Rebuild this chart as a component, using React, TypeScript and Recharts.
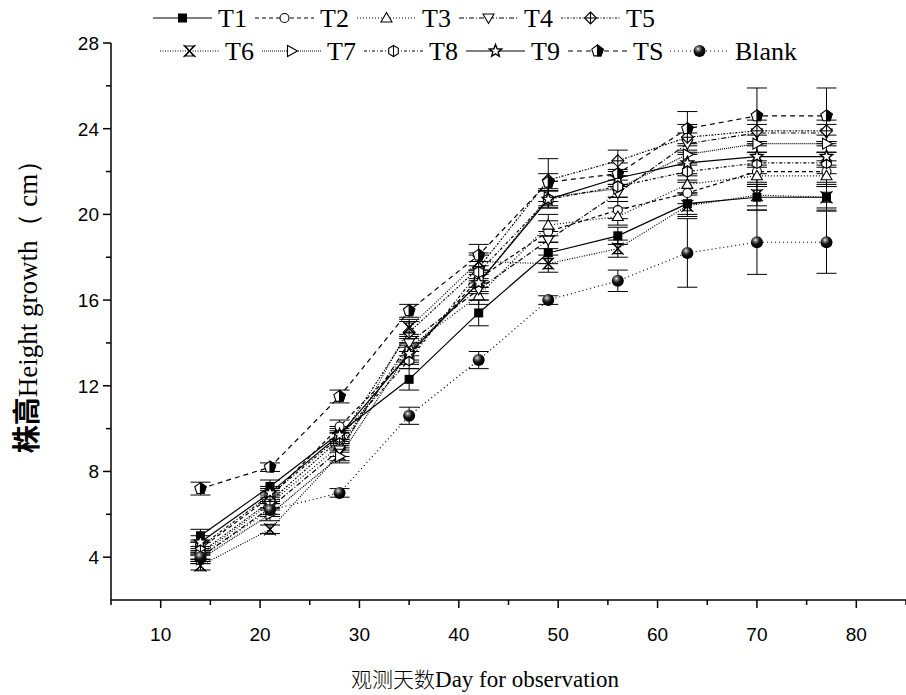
import React from 'react';
import { LineChart, Line, XAxis, YAxis, ErrorBar, Legend } from 'recharts';

// observation days
const days = [14, 21, 28, 35, 42, 49, 56, 63, 70, 77];

// mean heights (cm)
const t1 = [5.0, 7.3, 9.8, 12.3, 15.4, 18.2, 19.0, 20.5, 20.8, 20.8];
const t2 = [4.4, 6.8, 10.1, 13.4, 17.0, 19.2, 20.2, 21.0, 22.0, 22.0];
const t3 = [4.1, 6.5, 9.2, 13.8, 16.2, 19.5, 19.9, 21.4, 21.8, 21.8];
const t4 = [4.0, 6.3, 9.0, 14.0, 16.5, 18.8, 21.0, 23.3, 23.8, 23.8];
const t5 = [4.2, 6.6, 9.5, 14.5, 17.5, 21.6, 22.5, 23.6, 23.9, 23.9];
const t6 = [3.6, 5.3, 8.8, 14.7, 17.8, 17.7, 18.4, 20.4, 20.9, 20.8];
const t7 = [3.9, 6.0, 8.7, 13.6, 16.8, 20.8, 21.2, 22.8, 23.3, 23.3];
const t8 = [4.5, 6.9, 9.6, 13.2, 17.3, 20.7, 21.3, 22.0, 22.4, 22.4];
const t9 = [4.7, 7.0, 9.7, 13.5, 16.8, 20.7, 21.7, 22.4, 22.7, 22.7];
const ts = [7.2, 8.2, 11.5, 15.5, 18.1, 21.5, 21.9, 24.0, 24.6, 24.6];
const blank = [4.0, 6.2, 7.0, 10.6, 13.2, 16.0, 16.9, 18.2, 18.7, 18.7];

// standard errors
const e1 = [0.3, 0.3, 0.3, 0.5, 0.6, 0.5, 0.4, 0.5, 0.6, 0.6];
const e2 = [0.3, 0.3, 0.3, 0.4, 0.4, 0.5, 0.4, 0.5, 0.5, 0.5];
const e3 = [0.2, 0.3, 0.3, 0.4, 0.4, 0.5, 0.4, 0.4, 0.5, 0.5];
const e4 = [0.2, 0.3, 0.3, 0.4, 0.5, 0.4, 0.4, 0.5, 0.4, 0.4];
const e5 = [0.3, 0.3, 0.3, 0.5, 0.6, 1.0, 0.5, 0.6, 0.5, 0.5];
const e6 = [0.2, 0.2, 0.3, 0.4, 0.4, 0.4, 0.4, 0.5, 0.5, 0.5];
const e7 = [0.2, 0.3, 0.3, 0.4, 0.4, 0.4, 0.4, 0.5, 0.4, 0.4];
const e8 = [0.3, 0.3, 0.3, 0.4, 0.5, 0.4, 0.5, 0.4, 0.5, 0.5];
const e9 = [0.3, 0.3, 0.3, 0.4, 0.5, 0.4, 0.4, 0.5, 0.5, 0.5];
const eS = [0.3, 0.2, 0.3, 0.3, 0.5, 0.4, 0.5, 0.8, 1.3, 1.3];
const eB = [0.3, 0.3, 0.2, 0.4, 0.4, 0.2, 0.5, 1.6, 1.5, 1.45];

const xTicks = [5, 10, 15, 20, 25, 30, 35, 40, 45, 50, 55, 60, 65, 70, 75, 80, 85];
const yTicks = [4, 6, 8, 10, 12, 14, 16, 18, 20, 22, 24, 26, 28];

const series = [
  { key: 'T1', values: t1, errors: e1, shape: 'square', dash: undefined },
  { key: 'T2', values: t2, errors: e2, shape: 'circle', dash: '4 3' },
  { key: 'T3', values: t3, errors: e3, shape: 'triUp', dash: '1 2' },
  { key: 'T4', values: t4, errors: e4, shape: 'triDown', dash: '5 2 1 2' },
  { key: 'T5', values: t5, errors: e5, shape: 'diamond', dash: '2 1.5 1 1.5' },
  { key: 'T6', values: t6, errors: e6, shape: 'xbox', dash: '1 1.5' },
  { key: 'T7', values: t7, errors: e7, shape: 'triRight', dash: '1 1' },
  { key: 'T8', values: t8, errors: e8, shape: 'hex', dash: '3 2 1 2' },
  { key: 'T9', values: t9, errors: e9, shape: 'star', dash: undefined },
  { key: 'TS', values: ts, errors: eS, shape: 'pent', dash: '5 4' },
  { key: 'Blank', values: blank, errors: eB, shape: 'ball', dash: '1 3' },
];

const data = days.map((d, i) => {
  const row: Record<string, number> = { day: d };
  series.forEach((s) => {
    row[s.key] = s.values[i];
    row[s.key + '_e'] = s.errors[i];
  });
  return row;
});

const W = 906;
const H = 695;
const PLOT_LEFT = 111;
const PLOT_TOP = 43;
const PLOT_BOTTOM = 600;

function star(cx: number, cy: number, r: number, ri: number) {
  const pts: string[] = [];
  for (let k = 0; k < 10; k++) {
    const a = -Math.PI / 2 + (k * Math.PI) / 5;
    const rr = k % 2 === 0 ? r : ri;
    pts.push(`${cx + rr * Math.cos(a)},${cy + rr * Math.sin(a)}`);
  }
  return pts.join(' ');
}

function Marker({ shape, cx, cy, grad }: { shape: string; cx: number; cy: number; grad: string }) {
  const sw = 1.1;
  switch (shape) {
    case 'square':
      return <rect x={cx - 4.5} y={cy - 4.5} width={9} height={9} fill="#000" />;
    case 'circle':
      return <circle cx={cx} cy={cy} r={4.5} fill="#fff" stroke="#000" strokeWidth={sw} />;
    case 'triUp':
      return <polygon points={`${cx},${cy - 5.5} ${cx + 5.5},${cy + 4} ${cx - 5.5},${cy + 4}`} fill="#fff" stroke="#000" strokeWidth={sw} />;
    case 'triDown':
      return <polygon points={`${cx},${cy + 5.5} ${cx + 5.5},${cy - 4} ${cx - 5.5},${cy - 4}`} fill="#fff" stroke="#000" strokeWidth={sw} />;
    case 'diamond':
      return (
        <g stroke="#000" strokeWidth={sw}>
          <polygon points={`${cx},${cy - 6} ${cx + 6},${cy} ${cx},${cy + 6} ${cx - 6},${cy}`} fill="#fff" />
          <line x1={cx - 6} y1={cy} x2={cx + 6} y2={cy} />
          <line x1={cx} y1={cy - 6} x2={cx} y2={cy + 6} />
        </g>
      );
    case 'xbox':
      return (
        <g stroke="#000" strokeWidth={sw} fill="none">
          <polygon points={`${cx - 4},${cy - 5} ${cx + 4},${cy - 5} ${cx - 4},${cy + 5} ${cx + 4},${cy + 5}`} />
          <line x1={cx - 6} y1={cy - 6} x2={cx + 6} y2={cy + 6} />
          <line x1={cx + 6} y1={cy - 6} x2={cx - 6} y2={cy + 6} />
        </g>
      );
    case 'triRight':
      return <polygon points={`${cx + 6},${cy} ${cx - 4},${cy - 5.5} ${cx - 4},${cy + 5.5}`} fill="#fff" stroke="#000" strokeWidth={sw} />;
    case 'hex':
      return (
        <g stroke="#000" strokeWidth={sw}>
          <polygon points={`${cx},${cy - 5.5} ${cx + 4.8},${cy - 2.75} ${cx + 4.8},${cy + 2.75} ${cx},${cy + 5.5} ${cx - 4.8},${cy + 2.75} ${cx - 4.8},${cy - 2.75}`} fill="#fff" />
          <line x1={cx} y1={cy - 5.5} x2={cx} y2={cy + 5.5} />
        </g>
      );
    case 'star':
      return <polygon points={star(cx, cy, 6.5, 2.8)} fill="#fff" stroke="#000" strokeWidth={1.4} />;
    case 'pent':
      return (
        <g stroke="#000" strokeWidth={sw}>
          <polygon points={`${cx},${cy - 6} ${cx + 5.7},${cy - 1.85} ${cx + 3.5},${cy + 4.85} ${cx - 3.5},${cy + 4.85} ${cx - 5.7},${cy - 1.85}`} fill="#fff" />
          <polygon points={`${cx},${cy - 6} ${cx + 5.7},${cy - 1.85} ${cx + 3.5},${cy + 4.85} ${cx},${cy + 4.85}`} fill="#000" />
        </g>
      );
    case 'ball':
      return <circle cx={cx} cy={cy} r={6} fill={`url(#${grad})`} />;
    default:
      return null;
  }
}

function BallGradient({ id }: { id: string }) {
  return (
    <radialGradient id={id} cx="38%" cy="32%" r="65%">
      <stop offset="0%" stopColor="#fff" />
      <stop offset="18%" stopColor="#888" />
      <stop offset="55%" stopColor="#111" />
      <stop offset="100%" stopColor="#000" />
    </radialGradient>
  );
}

const serif = '"Liberation Serif", "Times New Roman", serif';
const sans = '"Liberation Sans", Arial, sans-serif';

function XTick(props: any) {
  const { payload } = props;
  const x = payload.coordinate;
  const major = payload.value % 10 === 0;
  return (
    <g>
      <line x1={x} y1={PLOT_BOTTOM} x2={x} y2={PLOT_BOTTOM + (major ? 8 : 5)} stroke="#000" strokeWidth={1.5} />
      {major && (
        <text x={x} y={PLOT_BOTTOM + 41} textAnchor="middle" fontFamily={sans} fontSize={19}>
          {payload.value}
        </text>
      )}
    </g>
  );
}

function YTick(props: any) {
  const { payload } = props;
  const y = payload.coordinate;
  const major = payload.value % 4 === 0;
  return (
    <g>
      <line x1={PLOT_LEFT} y1={y} x2={PLOT_LEFT - (major ? 8 : 5)} y2={y} stroke="#000" strokeWidth={1.5} />
      {major && (
        <text x={PLOT_LEFT - 12} y={y + 7} textAnchor="end" fontFamily={sans} fontSize={19}>
          {payload.value}
        </text>
      )}
    </g>
  );
}

const legendRows = [
  { y: 18, items: [0, 1, 2, 3, 4], x0: 153 },
  { y: 51, items: [5, 6, 7, 8, 9, 10], x0: 160 },
];

function LegendBox() {
  return (
    <svg width={W} height={70} style={{ display: 'block' }}>
      <defs>
        <BallGradient id="ballLegend" />
      </defs>
      {legendRows.map((row) =>
        row.items.map((si, j) => {
          const s = series[si];
          const x = row.x0 + j * 102;
          return (
            <g key={s.key}>
              <line x1={x} y1={row.y} x2={x + 59} y2={row.y} stroke="#000" strokeWidth={1.2} strokeDasharray={s.dash} />
              <Marker shape={s.shape} cx={x + 29.5} cy={row.y} grad="ballLegend" />
              <text x={x + 65} y={row.y + 9} fontFamily={serif} fontSize={26}>
                {s.key}
              </text>
            </g>
          );
        })
      )}
    </svg>
  );
}

export default function App() {
  return (
    <div style={{ position: 'absolute', left: 0, top: 0, width: W, height: H, background: '#fff' }}>
      <LineChart width={W} height={H} data={data} margin={{ top: PLOT_TOP, right: 0, bottom: 0, left: 0 }}>
        <defs>
          <BallGradient id="ballDot" />
        </defs>
        <XAxis
          dataKey="day"
          type="number"
          domain={[5, 85]}
          ticks={xTicks}
          interval={0}
          height={H - PLOT_BOTTOM}
          tickSize={0}
          tickMargin={0}
          tick={<XTick />}
          axisLine={{ stroke: '#000', strokeWidth: 1.5 }}
          label={{
            content: () => (
              <text x={485} y={687} textAnchor="middle">
                <tspan fontFamily='"Noto Sans CJK SC", sans-serif' fontSize={21} fontWeight={300}>观测天数</tspan>
                <tspan fontFamily={serif} fontSize={23}>Day for observation</tspan>
              </text>
            ),
          }}
        />
        <YAxis
          type="number"
          domain={[2, 28]}
          ticks={yTicks}
          interval={0}
          width={PLOT_LEFT}
          tickSize={0}
          tickMargin={0}
          tick={<YTick />}
          axisLine={{ stroke: '#000', strokeWidth: 1.5 }}
          label={{
            content: () => (
              <text x={37} y={300} textAnchor="middle" transform="rotate(-90 37 300)">
                <tspan fontFamily='"Noto Sans CJK SC", sans-serif' fontSize={28} fontWeight={700}>株高</tspan>
                <tspan fontFamily={serif} fontSize={27}>Height growth（ cm）</tspan>
              </text>
            ),
          }}
        />
        <Legend
          layout="vertical"
          align="center"
          verticalAlign="middle"
          wrapperStyle={{ top: 0, left: 0, width: W, height: 70 }}
          content={() => <LegendBox />}
        />
        {series.map((s) => (
          <Line
            key={s.key}
            dataKey={s.key}
            stroke="#000"
            strokeWidth={1.2}
            strokeDasharray={s.dash}
            isAnimationActive={false}
            dot={(p: any) => <Marker key={`${s.key}-${p.index}`} shape={s.shape} cx={p.cx} cy={p.cy} grad="ballDot" />}
            activeDot={false}
          >
            <ErrorBar dataKey={s.key + '_e'} width={10} stroke="#000" strokeWidth={1} direction="y" />
          </Line>
        ))}
      </LineChart>
    </div>
  );
}
